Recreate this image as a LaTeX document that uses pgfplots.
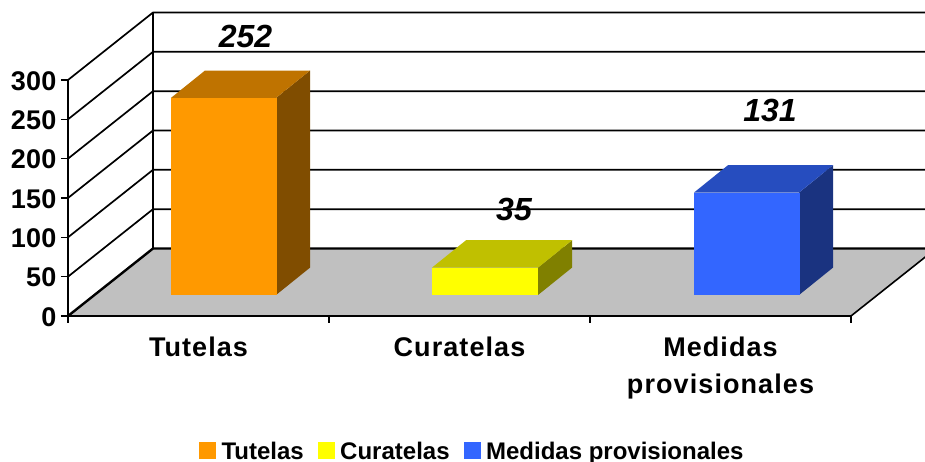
\documentclass[border=0pt]{standalone}
\usepackage{pgfplots}
\pgfplotsset{compat=1.18}
\usepackage{fontspec}
\setmainfont{Liberation Sans}
\newfontfamily\lab[LetterSpace=4]{Liberation Sans}
\newfontfamily\tnum[LetterSpace=1]{Liberation Sans}
\definecolor{cO}{HTML}{FF9900}\definecolor{cOt}{HTML}{BF7300}\definecolor{cOs}{HTML}{804D00}
\definecolor{cY}{HTML}{FFFF00}\definecolor{cYt}{HTML}{C0C000}\definecolor{cYs}{HTML}{808000}
\definecolor{cB}{HTML}{3366FF}\definecolor{cBt}{HTML}{264DBF}\definecolor{cBs}{HTML}{1A3380}
\definecolor{floor}{HTML}{C0C0C0}
\begin{document}
\begin{tikzpicture}[x=1pt,y=1pt]
\path[use as bounding box,clip] (0,0) rectangle (925,462);
% frame, walls and floor
\begin{axis}[
  at={(68pt,146pt)},anchor=south west,scale only axis,width=783pt,height=236pt,
  xmin=0,xmax=3,ymin=0,ymax=300,clip=false,axis on top,
  axis x line=bottom,axis y line=left,
  axis line style={-,black,line width=2.2pt},
  tick style={black,line width=1.6pt},
  major tick length=7pt,tick align=outside,
  ytick={0,50,100,150,200,250,300},
  xtick={0,1,2,3},xticklabels={},
  extra x ticks={0.5,1.5,2.5},
  extra x tick labels={Tutelas,Curatelas,{Medidas\\provisionales}},
  extra x tick style={major tick length=0pt,
    tick label style={font=\fontsize{27}{37}\selectfont\lab\bfseries,align=center,yshift=-17pt}},
  /pgf/number format/assume math mode=true,
  y tick label style={font=\fontsize{27}{30}\selectfont\tnum\bfseries,xshift=-1pt,yshift=-1pt},
]
\addplot[fill=floor,draw=none,forget plot] coordinates {(0,0)(0.3257,85.8)(3.3257,85.8)(3,0)} --cycle;
\addplot[black,line width=1.6pt,forget plot] coordinates {(3,0)(3.3257,85.8)};
\addplot[black,line width=1.7pt,forget plot] coordinates {(0,300)(0.3257,385.8)(3.3257,385.8)};
\addplot[black,line width=1.7pt,forget plot] coordinates {(0,250)(0.3257,335.8)(3.3257,335.8)};
\addplot[black,line width=1.7pt,forget plot] coordinates {(0,200)(0.3257,285.8)(3.3257,285.8)};
\addplot[black,line width=1.7pt,forget plot] coordinates {(0,150)(0.3257,235.8)(3.3257,235.8)};
\addplot[black,line width=1.7pt,forget plot] coordinates {(0,100)(0.3257,185.8)(3.3257,185.8)};
\addplot[black,line width=1.7pt,forget plot] coordinates {(0,50)(0.3257,135.8)(3.3257,135.8)};
\addplot[black,line width=2.4pt,forget plot] coordinates {(0,0)(0.3257,85.8)(3.3257,85.8)};
\addplot[black,line width=2.2pt,forget plot] coordinates {(0.3257,85.8)(0.3257,385.8)};
\end{axis}
% bars: value 0 sits on the bars' base line
\begin{axis}[
  at={(68pt,146pt)},anchor=south west,scale only axis,width=783pt,height=236pt,
  xmin=0,xmax=3,ymin=-26.85,ymax=274.9,clip=false,hide axis,
  legend columns=-1,
  legend style={at={(131pt,-143.5pt)},anchor=south west,draw=none,fill=none,inner sep=0pt,outer sep=0pt,
    font=\fontsize{24}{26}\selectfont\bfseries,
    nodes={inner sep=0pt,text depth=0pt},
    /tikz/every even column/.append style={column sep=14pt},
    /tikz/every odd column/.append style={column sep=5.5pt}},
  legend image code/.code={\fill[#1] (0pt,-8.5pt) rectangle (17pt,8.5pt);},
]
% side faces
\addplot[fill=cOs,draw=none,forget plot] coordinates {(0.797,0)(0.9273,35)(0.9273,287)(0.797,252)} --cycle;
\addplot[fill=cYs,draw=none,forget plot] coordinates {(1.8008,0)(1.9311,35)(1.9311,70)(1.8008,35)} --cycle;
\addplot[fill=cBs,draw=none,forget plot] coordinates {(2.8008,0)(2.9311,35)(2.9311,166)(2.8008,131)} --cycle;
% top faces
\addplot[fill=cOt,draw=none,forget plot] coordinates {(0.3946,252)(0.5249,287)(0.9273,287)(0.797,252)} --cycle;
\addplot[fill=cYt,draw=none,forget plot] coordinates {(1.3946,35)(1.5249,70)(1.9311,70)(1.8008,35)} --cycle;
\addplot[fill=cBt,draw=none,forget plot] coordinates {(2.3985,131)(2.5288,166)(2.9311,166)(2.8008,131)} --cycle;
% front faces
\addplot[ybar,bar width=106pt,fill=cO,draw=none] coordinates {(0.596,252)};
\addplot[ybar,bar width=106pt,fill=cY,draw=none] coordinates {(1.596,35)};
\addplot[ybar,bar width=106pt,fill=cB,draw=none] coordinates {(2.6,131)};
\legend{Tutelas,Curatelas,Medidas provisionales}
\end{axis}
% value labels
\begin{scope}[every node/.style={font=\fontsize{32}{34}\selectfont\bfseries\itshape,inner sep=0pt}]
\node at (245.5,426) {252};
\node at (514,253) {35};
\node at (770,352) {131};
\end{scope}
\end{tikzpicture}
\end{document}
